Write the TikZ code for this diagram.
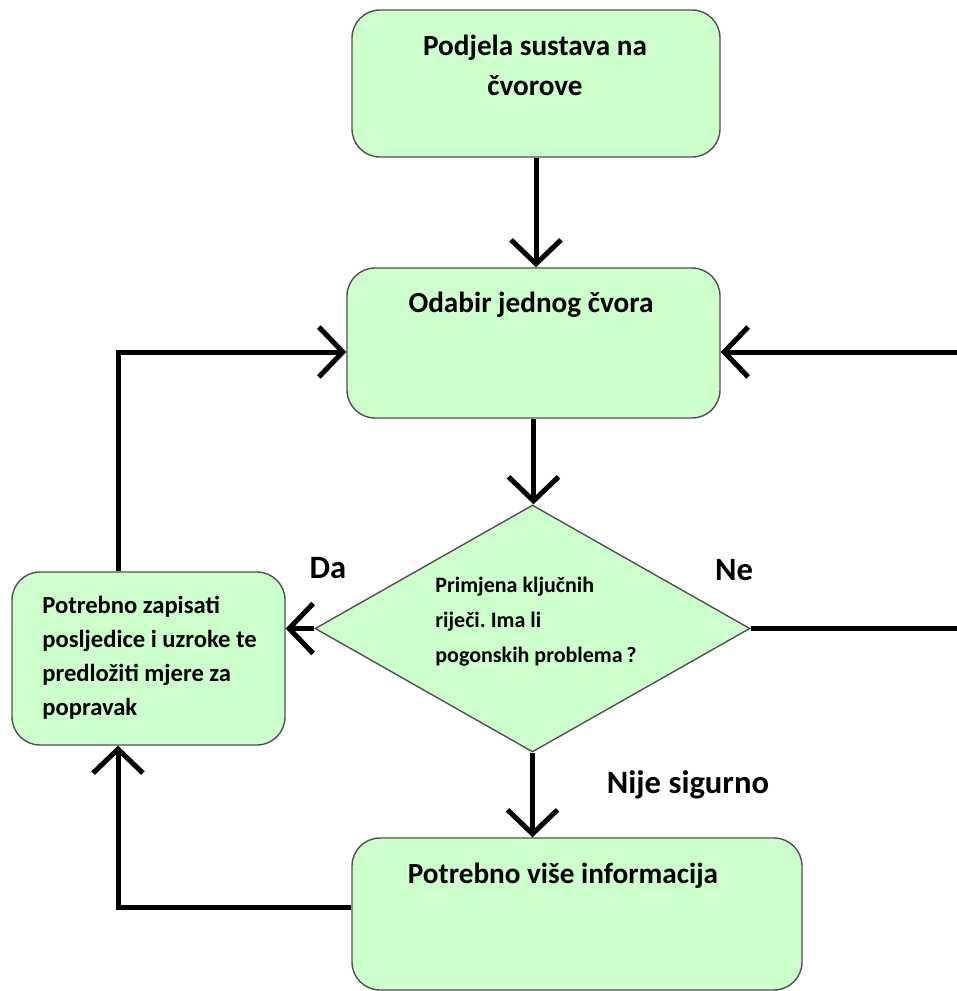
\documentclass[tikz,border=0pt]{standalone}
\usepackage{fontspec}
\setmainfont{Carlito}
\usepackage{tikz}
\usetikzlibrary{arrows.meta}
\usetikzlibrary{shapes.geometric}
\usetikzlibrary{positioning}
\definecolor{svijetlozelena}{RGB}{204,255,204}
\definecolor{rub}{RGB}{80,80,80}
\frenchspacing

\begin{document}
\begin{tikzpicture}[x=0.5pt,y=-0.5pt,
		kutija/.style={draw=rub,line width=0.7pt,fill=svijetlozelena,rounded corners=14pt,inner sep=0pt},
		romb/.style={diamond,draw=rub,line width=0.7pt,fill=svijetlozelena,inner sep=0pt},
		tekst/.style={font=\bfseries\fontsize{14.6pt}{20pt}\selectfont,align=center,inner sep=0pt,anchor=base},
		oznaka/.style={tekst,font=\bfseries\fontsize{16.3pt}{18pt}\selectfont},
		tok/.style={line width=2.5pt,-{Straight Barb[length=12pt,width=25pt,line width=2.5pt]}}]
				\clip (0,0) rectangle (957,991);
				\node[kutija,minimum width=184pt,minimum height=73.5pt] (podjela) at (536,83.5) {};
				\node[kutija,minimum width=186.5pt,minimum height=75pt] (odabir) at (533.5,343) {};
				\node[romb,minimum width=217.5pt,minimum height=123.5pt] (dia) at (532.5,628.5) {};
				\node[kutija,minimum width=136.5pt,minimum height=86.5pt] (zapis) at (148.5,658.5) {};
				\node[kutija,minimum width=225pt,minimum height=76pt] (info) at (577,914) {};
				% tekstovi u kutijama (base = zadnji redak)
				\node[tekst] at (535,95) {Podjela sustava na\\čvorove};
				\node[tekst] at (531,312) {Odabir jednog čvora};
				\node[tekst,align=left,anchor=base west,font=\bfseries\fontsize{11pt}{17.5pt}\selectfont] at (435,662) {Primjena ključnih\\riječi. Ima li\\pogonskih problema\,?};
				\node[tekst,align=left,anchor=base west,font=\bfseries\fontsize{12.3pt}{17pt}\selectfont] at (42,715) {Potrebno zapisati\\posljedice i uzroke te\\predložiti mjere za\\popravak};
				\node[tekst] at (563,883) {Potrebno više informacija};
				\node[oznaka] (da) at (328,578) {Da};
				\node[oznaka] (ne) at (734,580) {Ne};
				\node[oznaka] (nije) at (688,793) {Nije sigurno};
				% veze
				\coordinate (lijevodolje) at (118,907);
				\coordinate (lijevogore) at (118,352);
				\coordinate (desno) at (990,352);
				\draw[tok] (podjela.south) -- (podjela.south |- odabir.north);
				\draw[tok] (odabir.south) -- (odabir.south |- dia.north);
				\draw[tok] (dia.west) -- (dia.west -| zapis.east);
				\draw[tok] (dia.south) -- (dia.south |- info.north);
				\draw[tok] (info.west |- lijevodolje) -- (lijevodolje) -- (lijevodolje |- zapis.south);
				\draw[tok] (lijevogore |- zapis.north) -- (lijevogore) -- (lijevogore -| odabir.west);
				\draw[tok] (dia.east) -- (desno |- dia.east) -- (desno) -- (desno -| odabir.east);
			\end{tikzpicture}
\end{document}
